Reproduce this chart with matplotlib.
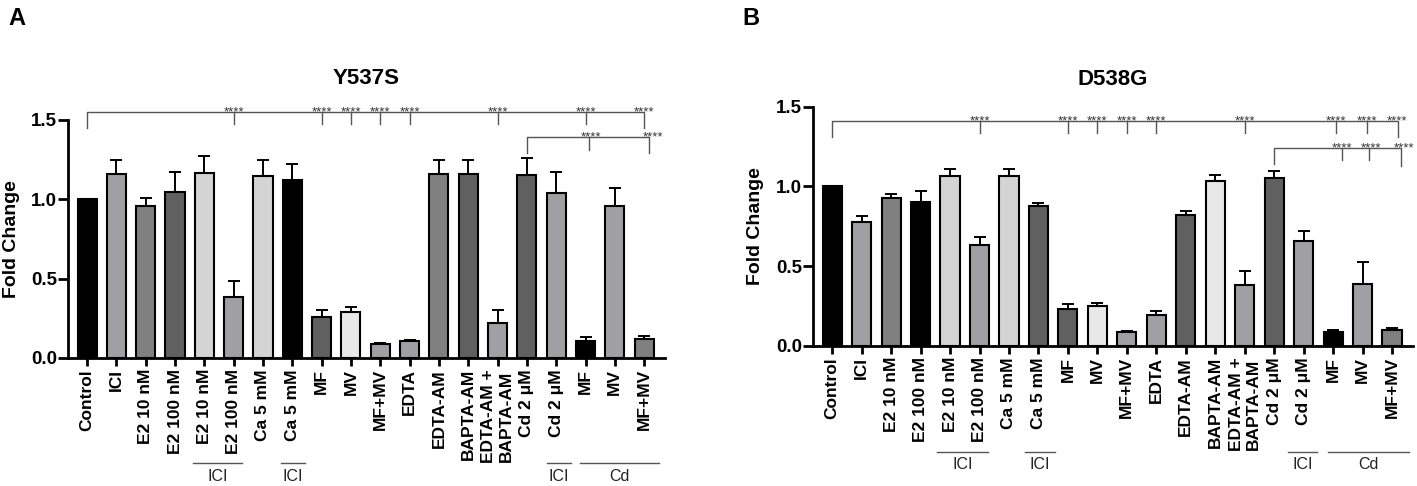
import numpy as np
import matplotlib
matplotlib.use('Agg')
import matplotlib.pyplot as plt

plt.rcParams['font.family'] = ['Liberation Sans', 'DejaVu Sans']

# bar labels (same for both panels)
labels = ['Control', 'ICI', 'E2 10 nM', 'E2 100 nM', 'E2 10 nM', 'E2 100 nM',
          'Ca 5 mM', 'Ca 5 mM', 'MF', 'MV', 'MF+MV', 'EDTA', 'EDTA-AM',
          'BAPTA-AM', 'EDTA-AM +\nBAPTA-AM', 'Cd 2 μM', 'Cd 2 μM',
          'MF', 'MV', 'MF+MV']

# panel A - Y537S
y537s_mean = [1.0, 1.16, 0.96, 1.045, 1.163, 0.383, 1.15, 1.12, 0.26, 0.29,
              0.088, 0.105, 1.157, 1.16, 0.219, 1.155, 1.04, 0.109, 0.96, 0.122]
y537s_sem = [0, 0.09, 0.05, 0.125, 0.107, 0.10, 0.10, 0.10, 0.04, 0.03,
             0.007, 0.011, 0.093, 0.09, 0.086, 0.105, 0.13, 0.026, 0.11, 0.017]

# panel B - D538G
d538g_mean = [1.0, 0.775, 0.928, 0.90, 1.063, 0.633, 1.063, 0.88, 0.232, 0.25,
              0.088, 0.196, 0.823, 1.036, 0.382, 1.053, 0.66, 0.088, 0.39, 0.098]
d538g_sem = [0, 0.04, 0.025, 0.07, 0.044, 0.052, 0.047, 0.018, 0.029, 0.02,
             0.008, 0.021, 0.023, 0.034, 0.088, 0.047, 0.063, 0.01, 0.134, 0.013]

K, G1, G2, G3, G4, G5 = '#000000', '#606060', '#808080', '#a0a0a4', '#d4d4d4', '#e8e8e8'
colors_a = [K, G3, G2, G1, G4, G3, G4, K, G1, G5, G3, G3, G2, G1, G3, G1, G3, K, G3, G2]
colors_b = [K, G3, G2, K, G4, G3, G4, G1, G1, G5, G3, G3, G1, G5, G3, G1, G3, K, G3, G2]

# significance brackets: (y, start, start_drop, ticks, tick_drop, end, end_drop, star x list)
brackets_a = [
    (1.55, 0, 1.45, [5, 8, 9, 10, 11, 14, 17], 1.475, 19, 1.45,
     [5, 8, 9, 10, 11, 14, 17, 19]),
    (1.39, 15, 1.29, [17.13], 1.31, 19.17, 1.29, [17.2, 19.3]),
]
brackets_b = [
    (1.41, 0, 1.31, [5, 8, 9, 10, 11, 14, 17.1, 18.15], 1.335, 19.2, 1.31,
     [5, 8, 9, 10, 11, 14, 17.1, 18.15, 19.15]),
    (1.24, 15, 1.14, [17.3, 18.2], 1.165, 19.3, 1.13, [17.3, 18.3, 19.4]),
]

# group underlines below the tick labels
groups_a = [('ICI', 3.6, 5.3), ('ICI', 6.6, 7.43), ('ICI', 15.7, 16.5), ('Cd', 16.8, 19.5)]
groups_b = [('ICI', 3.57, 5.3), ('ICI', 6.56, 7.55), ('ICI', 15.47, 16.46), ('Cd', 16.83, 19.57)]


def draw_panel(ax, mean, sem, colors, title, brackets, groups, title_y):
    x = np.arange(len(mean))
    ax.bar(x, mean, width=0.65, color=colors, edgecolor='black', linewidth=1.5, zorder=2)
    err = np.array(sem)
    ax.errorbar(x, mean, yerr=[np.zeros_like(err), err], fmt='none', ecolor='black',
                elinewidth=1.4, capsize=4.5, capthick=1.4, zorder=1)
    ax.set_xlim(-0.65, len(mean) - 0.29)
    ax.set_ylim(0, 1.5)
    ax.set_yticks([0, 0.5, 1.0, 1.5])
    ax.set_yticklabels(['0.0', '0.5', '1.0', '1.5'], fontsize=13.5, fontweight='bold')
    ax.set_xticks(x)
    ax.set_xticklabels(labels, rotation=90, fontsize=12.5, fontweight='bold')
    ax.tick_params(axis='y', length=7, width=2, pad=1)
    ax.tick_params(axis='x', length=6, width=2, pad=2)
    for s in ['top', 'right']:
        ax.spines[s].set_visible(False)
    for s in ['left', 'bottom']:
        ax.spines[s].set_linewidth(2)
    ax.set_ylabel('Fold Change', fontsize=14, fontweight='bold')
    ax.yaxis.set_label_coords(-0.081, 0.5)
    ax.text(0.5, title_y, title, transform=ax.transAxes, ha='center', va='center',
            fontsize=16, fontweight='bold')

    bc = '#555555'
    for (y, x0, d0, ticks, td, x1, d1, stars) in brackets:
        ax.plot([x0, x0, x1, x1], [d0, y, y, d1], color=bc, lw=1, clip_on=False)
        for t in ticks:
            ax.plot([t, t], [y, td], color=bc, lw=1, clip_on=False)
        for sx in stars:
            ax.annotate('****', (sx, y), xytext=(0, -2.5), textcoords='offset points',
                        ha='center', va='baseline', fontsize=9.5, color='#333333',
                        annotation_clip=False)

    tr = ax.get_xaxis_transform()
    for (name, g0, g1) in groups:
        ax.plot([g0, g1], [-0.441, -0.441], color=bc, lw=1, transform=tr, clip_on=False)
        ax.text((g0 + g1) / 2, -0.496, name, transform=tr, ha='center', va='center',
                fontsize=11.5, color='#222222')


fig = plt.figure(figsize=(14.17, 4.86), dpi=100)
ax_a = fig.add_axes([68 / 1417, 1 - 358 / 486, 597 / 1417, 238 / 486])
ax_b = fig.add_axes([813 / 1417, 1 - 346 / 486, 600 / 1417, 239.3 / 486])

draw_panel(ax_a, y537s_mean, y537s_sem, colors_a, 'Y537S', brackets_a, groups_a, 1.176)
draw_panel(ax_b, d538g_mean, d538g_sem, colors_b, 'D538G', brackets_b, groups_b, 1.112)

fig.text(8 / 1417, 1 - 25 / 486, 'A', fontsize=17, fontweight='bold', va='baseline')
fig.text(742 / 1417, 1 - 25 / 486, 'B', fontsize=17, fontweight='bold', va='baseline')

fig.savefig('out.png', dpi=100)
